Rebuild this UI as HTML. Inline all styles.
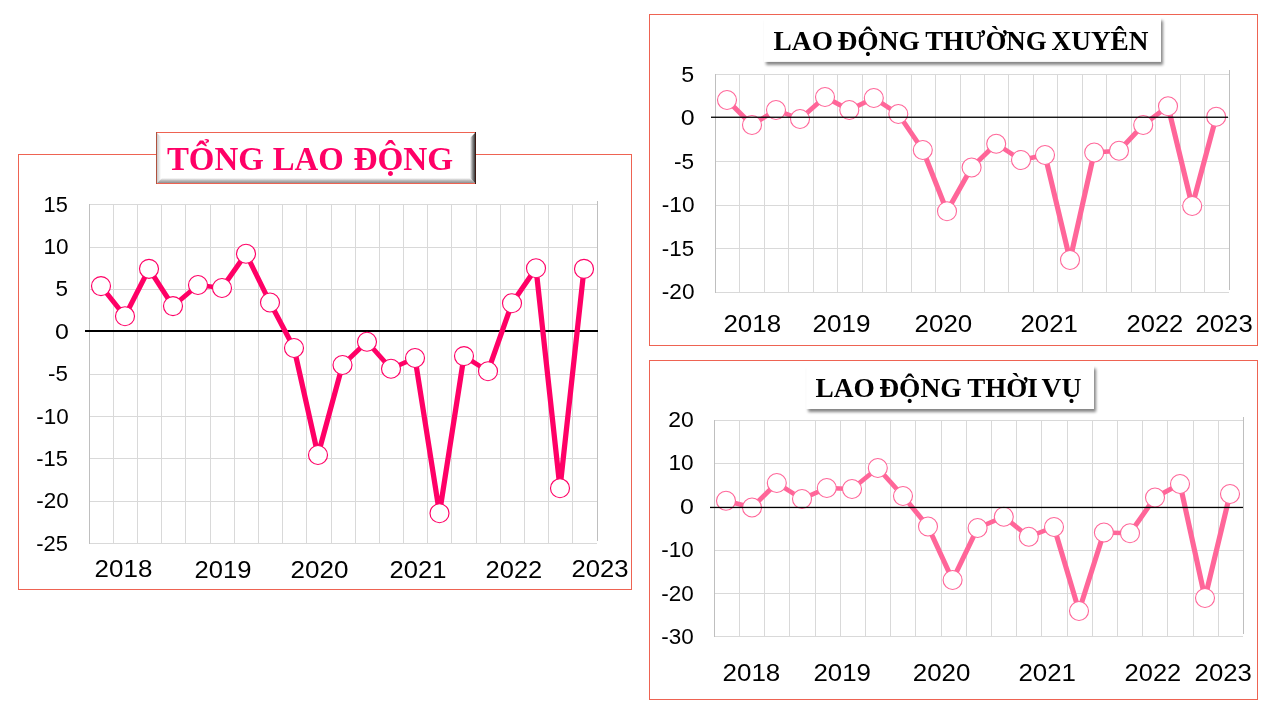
<!DOCTYPE html>
<html lang="vi">
<head>
<meta charset="utf-8">
<title>Lao động</title>
<style>
html,body{margin:0;padding:0;background:#fff;}
body{width:1280px;height:720px;overflow:hidden;position:relative;}
svg{position:absolute;left:0;top:0;display:block;}
</style>
</head>
<body>
<svg width="1280" height="720" viewBox="0 0 1280 720">
<defs>
<filter id="sh" x="-5%" y="-30%" width="112%" height="180%" color-interpolation-filters="sRGB">
  <feGaussianBlur in="SourceAlpha" stdDeviation="1.7"/>
  <feOffset dx="2.4" dy="3"/>
  <feComponentTransfer><feFuncA type="linear" slope="0.48"/></feComponentTransfer>
  <feMerge><feMergeNode/><feMergeNode in="SourceGraphic"/></feMerge>
</filter>
<linearGradient id="bvB" x1="0" y1="0" x2="0" y2="1"><stop offset="0" stop-color="#fff"/><stop offset="0.5" stop-color="#bdbdbd"/><stop offset="1" stop-color="#8f8f8f"/></linearGradient>
<linearGradient id="bvR" x1="0" y1="0" x2="1" y2="0"><stop offset="0" stop-color="#fff"/><stop offset="0.45" stop-color="#9a9a9a"/><stop offset="1" stop-color="#3a3a3a"/></linearGradient>
<linearGradient id="bvL" x1="0" y1="0" x2="1" y2="0"><stop offset="0" stop-color="#c9c9c9"/><stop offset="1" stop-color="#fff"/></linearGradient>
</defs>
<rect x="18.5" y="154.5" width="613" height="435" fill="#fff" stroke="#EE6352" stroke-width="1"/>
<rect x="649.5" y="14.5" width="608" height="331" fill="#fff" stroke="#EE6352" stroke-width="1"/>
<rect x="649.5" y="360.5" width="608" height="339" fill="#fff" stroke="#EE6352" stroke-width="1"/>
<rect x="89" y="204" width="508" height="1" fill="#D9D9D9"/>
<rect x="89" y="247" width="508" height="1" fill="#D9D9D9"/>
<rect x="89" y="289" width="508" height="1" fill="#D9D9D9"/>
<rect x="89" y="331" width="508" height="1" fill="#D9D9D9"/>
<rect x="89" y="374" width="508" height="1" fill="#D9D9D9"/>
<rect x="89" y="416" width="508" height="1" fill="#D9D9D9"/>
<rect x="89" y="458" width="508" height="1" fill="#D9D9D9"/>
<rect x="89" y="501" width="508" height="1" fill="#D9D9D9"/>
<rect x="89" y="543" width="508" height="1" fill="#D9D9D9"/>
<rect x="89" y="204" width="1" height="340" fill="#BFBFBF"/>
<rect x="113" y="204" width="1" height="340" fill="#D9D9D9"/>
<rect x="137" y="204" width="1" height="340" fill="#D9D9D9"/>
<rect x="161" y="204" width="1" height="340" fill="#D9D9D9"/>
<rect x="185" y="204" width="1" height="340" fill="#D9D9D9"/>
<rect x="210" y="204" width="1" height="340" fill="#D9D9D9"/>
<rect x="234" y="204" width="1" height="340" fill="#D9D9D9"/>
<rect x="258" y="204" width="1" height="340" fill="#D9D9D9"/>
<rect x="282" y="204" width="1" height="340" fill="#D9D9D9"/>
<rect x="306" y="204" width="1" height="340" fill="#D9D9D9"/>
<rect x="331" y="204" width="1" height="340" fill="#D9D9D9"/>
<rect x="355" y="204" width="1" height="340" fill="#D9D9D9"/>
<rect x="379" y="204" width="1" height="340" fill="#D9D9D9"/>
<rect x="403" y="204" width="1" height="340" fill="#D9D9D9"/>
<rect x="427" y="204" width="1" height="340" fill="#D9D9D9"/>
<rect x="451" y="204" width="1" height="340" fill="#D9D9D9"/>
<rect x="476" y="204" width="1" height="340" fill="#D9D9D9"/>
<rect x="500" y="204" width="1" height="340" fill="#D9D9D9"/>
<rect x="524" y="204" width="1" height="340" fill="#D9D9D9"/>
<rect x="548" y="204" width="1" height="340" fill="#D9D9D9"/>
<rect x="572" y="204" width="1" height="340" fill="#D9D9D9"/>
<rect x="597" y="201" width="1" height="340" fill="#BFBFBF"/>
<rect x="85" y="330" width="513" height="2" fill="#000"/>
<polyline transform="scale(1.17 1)" points="86.32,286.10 106.84,316.20 127.35,268.80 147.86,306.10 169.23,285.00 189.74,288.00 210.26,253.75 230.77,302.50 251.28,348.00 271.79,455.00 292.74,365.00 313.68,341.75 334.19,368.75 354.70,358.00 375.64,513.25 396.58,356.10 417.09,371.25 437.61,303.25 458.12,268.25 478.63,488.20 499.15,268.90" fill="none" stroke="#FF0066" stroke-width="4.5" stroke-linejoin="round" stroke-linecap="round"/>
<g fill="#fff" stroke="#FF0066" stroke-width="1.15">
<circle cx="101.00" cy="286.10" r="9.5"/>
<circle cx="125.00" cy="316.20" r="9.5"/>
<circle cx="149.00" cy="268.80" r="9.5"/>
<circle cx="173.00" cy="306.10" r="9.5"/>
<circle cx="198.00" cy="285.00" r="9.5"/>
<circle cx="222.00" cy="288.00" r="9.5"/>
<circle cx="246.00" cy="253.75" r="9.5"/>
<circle cx="270.00" cy="302.50" r="9.5"/>
<circle cx="294.00" cy="348.00" r="9.5"/>
<circle cx="318.00" cy="455.00" r="9.5"/>
<circle cx="342.50" cy="365.00" r="9.5"/>
<circle cx="367.00" cy="341.75" r="9.5"/>
<circle cx="391.00" cy="368.75" r="9.5"/>
<circle cx="415.00" cy="358.00" r="9.5"/>
<circle cx="439.50" cy="513.25" r="9.5"/>
<circle cx="464.00" cy="356.10" r="9.5"/>
<circle cx="488.00" cy="371.25" r="9.5"/>
<circle cx="512.00" cy="303.25" r="9.5"/>
<circle cx="536.00" cy="268.25" r="9.5"/>
<circle cx="560.00" cy="488.20" r="9.5"/>
<circle cx="584.00" cy="268.90" r="9.5"/>
</g>
<text x="43.63" y="211.7" font-family='"Liberation Sans", sans-serif' font-size="21.5" fill="#000" textLength="24.24" lengthAdjust="spacingAndGlyphs">15</text>
<text x="43.57" y="254.08" font-family='"Liberation Sans", sans-serif' font-size="21.5" fill="#000" textLength="25.11" lengthAdjust="spacingAndGlyphs">10</text>
<text x="55.4" y="296.46" font-family='"Liberation Sans", sans-serif' font-size="21.5" fill="#000" textLength="12.51" lengthAdjust="spacingAndGlyphs">5</text>
<text x="54.9" y="338.84" font-family='"Liberation Sans", sans-serif' font-size="21.5" fill="#000" textLength="13.89" lengthAdjust="spacingAndGlyphs">0</text>
<text x="48.08" y="381.22" font-family='"Liberation Sans", sans-serif' font-size="21.5" fill="#000" textLength="19.81" lengthAdjust="spacingAndGlyphs">-5</text>
<text x="36.23" y="423.6" font-family='"Liberation Sans", sans-serif' font-size="21.5" fill="#000" textLength="32.44" lengthAdjust="spacingAndGlyphs">-10</text>
<text x="36.25" y="465.98" font-family='"Liberation Sans", sans-serif' font-size="21.5" fill="#000" textLength="31.62" lengthAdjust="spacingAndGlyphs">-15</text>
<text x="36.23" y="508.36" font-family='"Liberation Sans", sans-serif' font-size="21.5" fill="#000" textLength="32.44" lengthAdjust="spacingAndGlyphs">-20</text>
<text x="36.25" y="550.74" font-family='"Liberation Sans", sans-serif' font-size="21.5" fill="#000" textLength="31.62" lengthAdjust="spacingAndGlyphs">-25</text>
<text x="94.6" y="576.8" font-family='"Liberation Sans", sans-serif' font-size="24.6" fill="#000" textLength="57.76" lengthAdjust="spacingAndGlyphs">2018</text>
<text x="194.62" y="577.6" font-family='"Liberation Sans", sans-serif' font-size="24.6" fill="#000" textLength="56.91" lengthAdjust="spacingAndGlyphs">2019</text>
<text x="290.5" y="577.6" font-family='"Liberation Sans", sans-serif' font-size="24.6" fill="#000" textLength="57.94" lengthAdjust="spacingAndGlyphs">2020</text>
<text x="389.62" y="577.6" font-family='"Liberation Sans", sans-serif' font-size="24.6" fill="#000" textLength="56.91" lengthAdjust="spacingAndGlyphs">2021</text>
<text x="485.52" y="577.6" font-family='"Liberation Sans", sans-serif' font-size="24.6" fill="#000" textLength="56.73" lengthAdjust="spacingAndGlyphs">2022</text>
<text x="571.52" y="576.8" font-family='"Liberation Sans", sans-serif' font-size="24.6" fill="#000" textLength="57.08" lengthAdjust="spacingAndGlyphs">2023</text>
<g>
<rect x="156" y="132" width="320" height="52" fill="#fff"/>
<polygon points="157,133 161,137 161,179 157,183" fill="url(#bvL)"/>
<polygon points="157,183 162,178 470,178 475,183" fill="url(#bvB)"/>
<polygon points="475,133 470,138 470,178 475,183" fill="url(#bvR)"/>
<rect x="156" y="132" width="320" height="1" fill="#EE6352"/>
<rect x="156" y="183" width="320" height="1" fill="#EE6352"/>
<rect x="156" y="132" width="1" height="52" fill="#B0523F"/>
<rect x="475" y="132" width="1" height="52" fill="#3A1A14"/>
<text y="170" font-family='"Liberation Serif", serif' font-weight="bold" font-size="33.3" fill="#FF0066"><tspan x="166.9" textLength="96.93" lengthAdjust="spacingAndGlyphs">TỔNG</tspan> <tspan x="272.75" textLength="70.94" lengthAdjust="spacingAndGlyphs">LAO</tspan> <tspan x="353.42" textLength="99.76" lengthAdjust="spacingAndGlyphs">ĐỘNG</tspan></text>
</g>
<rect x="715" y="74" width="514" height="1" fill="#D9D9D9"/>
<rect x="715" y="117" width="514" height="1" fill="#D9D9D9"/>
<rect x="715" y="161" width="514" height="1" fill="#D9D9D9"/>
<rect x="715" y="205" width="514" height="1" fill="#D9D9D9"/>
<rect x="715" y="248" width="514" height="1" fill="#D9D9D9"/>
<rect x="715" y="292" width="514" height="1" fill="#D9D9D9"/>
<rect x="715" y="74" width="1" height="219" fill="#BFBFBF"/>
<rect x="739" y="74" width="1" height="219" fill="#D9D9D9"/>
<rect x="764" y="74" width="1" height="219" fill="#D9D9D9"/>
<rect x="788" y="74" width="1" height="219" fill="#D9D9D9"/>
<rect x="813" y="74" width="1" height="219" fill="#D9D9D9"/>
<rect x="837" y="74" width="1" height="219" fill="#D9D9D9"/>
<rect x="862" y="74" width="1" height="219" fill="#D9D9D9"/>
<rect x="886" y="74" width="1" height="219" fill="#D9D9D9"/>
<rect x="911" y="74" width="1" height="219" fill="#D9D9D9"/>
<rect x="935" y="74" width="1" height="219" fill="#D9D9D9"/>
<rect x="960" y="74" width="1" height="219" fill="#D9D9D9"/>
<rect x="984" y="74" width="1" height="219" fill="#D9D9D9"/>
<rect x="1008" y="74" width="1" height="219" fill="#D9D9D9"/>
<rect x="1033" y="74" width="1" height="219" fill="#D9D9D9"/>
<rect x="1057" y="74" width="1" height="219" fill="#D9D9D9"/>
<rect x="1082" y="74" width="1" height="219" fill="#D9D9D9"/>
<rect x="1106" y="74" width="1" height="219" fill="#D9D9D9"/>
<rect x="1131" y="74" width="1" height="219" fill="#D9D9D9"/>
<rect x="1155" y="74" width="1" height="219" fill="#D9D9D9"/>
<rect x="1180" y="74" width="1" height="219" fill="#D9D9D9"/>
<rect x="1204" y="74" width="1" height="219" fill="#D9D9D9"/>
<rect x="1229" y="70" width="1" height="220" fill="#BFBFBF"/>
<polyline transform="scale(1.17 1)" points="621.37,100.00 642.74,125.00 663.25,110.00 683.76,119.00 705.13,97.00 725.90,110.00 746.84,98.00 767.78,114.00 788.72,150.00 809.40,211.25 830.43,167.50 851.45,143.75 872.65,160.00 893.16,155.00 914.53,260.00 935.21,152.50 956.41,150.75 977.09,125.00 998.29,106.25 1018.97,206.00 1039.49,116.75" fill="none" stroke="#FF6699" stroke-width="4.45" stroke-linejoin="round" stroke-linecap="round"/>
<g fill="#fff" stroke="#FF6699" stroke-width="1.1">
<circle cx="727.00" cy="100.00" r="9.5"/>
<circle cx="752.00" cy="125.00" r="9.5"/>
<circle cx="776.00" cy="110.00" r="9.5"/>
<circle cx="800.00" cy="119.00" r="9.5"/>
<circle cx="825.00" cy="97.00" r="9.5"/>
<circle cx="849.30" cy="110.00" r="9.5"/>
<circle cx="873.80" cy="98.00" r="9.5"/>
<circle cx="898.30" cy="114.00" r="9.5"/>
<circle cx="922.80" cy="150.00" r="9.5"/>
<circle cx="947.00" cy="211.25" r="9.5"/>
<circle cx="971.60" cy="167.50" r="9.5"/>
<circle cx="996.20" cy="143.75" r="9.5"/>
<circle cx="1021.00" cy="160.00" r="9.5"/>
<circle cx="1045.00" cy="155.00" r="9.5"/>
<circle cx="1070.00" cy="260.00" r="9.5"/>
<circle cx="1094.20" cy="152.50" r="9.5"/>
<circle cx="1119.00" cy="150.75" r="9.5"/>
<circle cx="1143.20" cy="125.00" r="9.5"/>
<circle cx="1168.00" cy="106.25" r="9.5"/>
<circle cx="1192.20" cy="206.00" r="9.5"/>
<circle cx="1216.20" cy="116.75" r="9.5"/>
</g>
<rect x="711" y="116.6" width="517" height="1.3" fill="#000"/>
<text x="681.27" y="81.85" font-family='"Liberation Sans", sans-serif' font-size="21.5" fill="#000" textLength="12.93" lengthAdjust="spacingAndGlyphs">5</text>
<text x="680.8" y="125.3" font-family='"Liberation Sans", sans-serif' font-size="21.5" fill="#000" textLength="13.89" lengthAdjust="spacingAndGlyphs">0</text>
<text x="674.07" y="168.75" font-family='"Liberation Sans", sans-serif' font-size="21.5" fill="#000" textLength="20.09" lengthAdjust="spacingAndGlyphs">-5</text>
<text x="661.82" y="212.2" font-family='"Liberation Sans", sans-serif' font-size="21.5" fill="#000" textLength="32.76" lengthAdjust="spacingAndGlyphs">-10</text>
<text x="661.83" y="255.65" font-family='"Liberation Sans", sans-serif' font-size="21.5" fill="#000" textLength="32.31" lengthAdjust="spacingAndGlyphs">-15</text>
<text x="661.82" y="299.1" font-family='"Liberation Sans", sans-serif' font-size="21.5" fill="#000" textLength="32.76" lengthAdjust="spacingAndGlyphs">-20</text>
<text x="723.4" y="331.8" font-family='"Liberation Sans", sans-serif' font-size="24.6" fill="#000" textLength="57.7" lengthAdjust="spacingAndGlyphs">2018</text>
<text x="812.5" y="331.8" font-family='"Liberation Sans", sans-serif' font-size="24.6" fill="#000" textLength="58.06" lengthAdjust="spacingAndGlyphs">2019</text>
<text x="914.61" y="331.8" font-family='"Liberation Sans", sans-serif' font-size="24.6" fill="#000" textLength="57.58" lengthAdjust="spacingAndGlyphs">2020</text>
<text x="1020.51" y="331.8" font-family='"Liberation Sans", sans-serif' font-size="24.6" fill="#000" textLength="57.32" lengthAdjust="spacingAndGlyphs">2021</text>
<text x="1126.52" y="331.8" font-family='"Liberation Sans", sans-serif' font-size="24.6" fill="#000" textLength="56.73" lengthAdjust="spacingAndGlyphs">2022</text>
<text x="1195.51" y="331.8" font-family='"Liberation Sans", sans-serif' font-size="24.6" fill="#000" textLength="57.23" lengthAdjust="spacingAndGlyphs">2023</text>
<g>
<rect x="764" y="17.6" width="397" height="44.3" fill="#fff" filter="url(#sh)"/>
<text y="49.8" font-family='"Liberation Serif", serif' font-weight="bold" font-size="26.7" fill="#000"><tspan x="773.59" textLength="59.39" lengthAdjust="spacingAndGlyphs">LAO</tspan> <tspan x="837.51" textLength="82.32" lengthAdjust="spacingAndGlyphs">ĐỘNG</tspan> <tspan x="925.2" textLength="121.52" lengthAdjust="spacingAndGlyphs">THƯỜNG</tspan> <tspan x="1051.61" textLength="96.83" lengthAdjust="spacingAndGlyphs">XUYÊN</tspan></text>
</g>
<rect x="714" y="420" width="529" height="1" fill="#D9D9D9"/>
<rect x="714" y="463" width="529" height="1" fill="#D9D9D9"/>
<rect x="714" y="507" width="529" height="1" fill="#D9D9D9"/>
<rect x="714" y="550" width="529" height="1" fill="#D9D9D9"/>
<rect x="714" y="593" width="529" height="1" fill="#D9D9D9"/>
<rect x="714" y="636" width="529" height="1" fill="#D9D9D9"/>
<rect x="714" y="420" width="1" height="217" fill="#BFBFBF"/>
<rect x="739" y="420" width="1" height="217" fill="#D9D9D9"/>
<rect x="764" y="420" width="1" height="217" fill="#D9D9D9"/>
<rect x="789" y="420" width="1" height="217" fill="#D9D9D9"/>
<rect x="815" y="420" width="1" height="217" fill="#D9D9D9"/>
<rect x="840" y="420" width="1" height="217" fill="#D9D9D9"/>
<rect x="865" y="420" width="1" height="217" fill="#D9D9D9"/>
<rect x="890" y="420" width="1" height="217" fill="#D9D9D9"/>
<rect x="915" y="420" width="1" height="217" fill="#D9D9D9"/>
<rect x="941" y="420" width="1" height="217" fill="#D9D9D9"/>
<rect x="966" y="420" width="1" height="217" fill="#D9D9D9"/>
<rect x="991" y="420" width="1" height="217" fill="#D9D9D9"/>
<rect x="1016" y="420" width="1" height="217" fill="#D9D9D9"/>
<rect x="1041" y="420" width="1" height="217" fill="#D9D9D9"/>
<rect x="1067" y="420" width="1" height="217" fill="#D9D9D9"/>
<rect x="1092" y="420" width="1" height="217" fill="#D9D9D9"/>
<rect x="1117" y="420" width="1" height="217" fill="#D9D9D9"/>
<rect x="1142" y="420" width="1" height="217" fill="#D9D9D9"/>
<rect x="1167" y="420" width="1" height="217" fill="#D9D9D9"/>
<rect x="1193" y="420" width="1" height="217" fill="#D9D9D9"/>
<rect x="1218" y="420" width="1" height="217" fill="#D9D9D9"/>
<rect x="1243" y="417" width="1" height="217" fill="#BFBFBF"/>
<polyline transform="scale(1.17 1)" points="620.51,500.75 642.74,507.50 663.93,483.00 685.47,499.00 706.67,488.00 728.21,489.00 750.26,468.00 771.79,496.00 793.16,526.50 814.19,580.00 835.56,528.00 857.95,516.75 879.32,536.75 900.85,527.00 922.22,611.00 943.50,532.50 965.81,533.25 987.18,497.50 1008.55,484.00 1029.91,598.00 1051.28,494.00" fill="none" stroke="#FF6699" stroke-width="4.45" stroke-linejoin="round" stroke-linecap="round"/>
<g fill="#fff" stroke="#FF6699" stroke-width="1.1">
<circle cx="726.00" cy="500.75" r="9.5"/>
<circle cx="752.00" cy="507.50" r="9.5"/>
<circle cx="776.80" cy="483.00" r="9.5"/>
<circle cx="802.00" cy="499.00" r="9.5"/>
<circle cx="826.80" cy="488.00" r="9.5"/>
<circle cx="852.00" cy="489.00" r="9.5"/>
<circle cx="877.80" cy="468.00" r="9.5"/>
<circle cx="903.00" cy="496.00" r="9.5"/>
<circle cx="928.00" cy="526.50" r="9.5"/>
<circle cx="952.60" cy="580.00" r="9.5"/>
<circle cx="977.60" cy="528.00" r="9.5"/>
<circle cx="1003.80" cy="516.75" r="9.5"/>
<circle cx="1028.80" cy="536.75" r="9.5"/>
<circle cx="1054.00" cy="527.00" r="9.5"/>
<circle cx="1079.00" cy="611.00" r="9.5"/>
<circle cx="1103.90" cy="532.50" r="9.5"/>
<circle cx="1130.00" cy="533.25" r="9.5"/>
<circle cx="1155.00" cy="497.50" r="9.5"/>
<circle cx="1180.00" cy="484.00" r="9.5"/>
<circle cx="1205.00" cy="598.00" r="9.5"/>
<circle cx="1230.00" cy="494.00" r="9.5"/>
</g>
<rect x="710" y="506.8" width="533" height="1.3" fill="#000"/>
<text x="668.15" y="426.85" font-family='"Liberation Sans", sans-serif' font-size="21.5" fill="#000" textLength="25.54" lengthAdjust="spacingAndGlyphs">20</text>
<text x="668.57" y="470.3" font-family='"Liberation Sans", sans-serif' font-size="21.5" fill="#000" textLength="25.11" lengthAdjust="spacingAndGlyphs">10</text>
<text x="679.9" y="513.75" font-family='"Liberation Sans", sans-serif' font-size="21.5" fill="#000" textLength="13.89" lengthAdjust="spacingAndGlyphs">0</text>
<text x="661.23" y="557.2" font-family='"Liberation Sans", sans-serif' font-size="21.5" fill="#000" textLength="32.44" lengthAdjust="spacingAndGlyphs">-10</text>
<text x="661.23" y="600.65" font-family='"Liberation Sans", sans-serif' font-size="21.5" fill="#000" textLength="32.44" lengthAdjust="spacingAndGlyphs">-20</text>
<text x="661.23" y="644.1" font-family='"Liberation Sans", sans-serif' font-size="21.5" fill="#000" textLength="32.44" lengthAdjust="spacingAndGlyphs">-30</text>
<text x="722.5" y="680.6" font-family='"Liberation Sans", sans-serif' font-size="24.6" fill="#000" textLength="57.76" lengthAdjust="spacingAndGlyphs">2018</text>
<text x="813.41" y="680.6" font-family='"Liberation Sans", sans-serif' font-size="24.6" fill="#000" textLength="57.53" lengthAdjust="spacingAndGlyphs">2019</text>
<text x="912.75" y="680.6" font-family='"Liberation Sans", sans-serif' font-size="24.6" fill="#000" textLength="57.68" lengthAdjust="spacingAndGlyphs">2020</text>
<text x="1018.41" y="680.6" font-family='"Liberation Sans", sans-serif' font-size="24.6" fill="#000" textLength="57.53" lengthAdjust="spacingAndGlyphs">2021</text>
<text x="1124.63" y="680.6" font-family='"Liberation Sans", sans-serif' font-size="24.6" fill="#000" textLength="56.63" lengthAdjust="spacingAndGlyphs">2022</text>
<text x="1194.61" y="680.6" font-family='"Liberation Sans", sans-serif' font-size="24.6" fill="#000" textLength="57.23" lengthAdjust="spacingAndGlyphs">2023</text>
<g>
<rect x="806.2" y="365.6" width="287.8" height="43.4" fill="#fff" filter="url(#sh)"/>
<text y="396.9" font-family='"Liberation Serif", serif' font-weight="bold" font-size="26.7" fill="#000"><tspan x="815.44" textLength="59.39" lengthAdjust="spacingAndGlyphs">LAO</tspan> <tspan x="879.26" textLength="82.42" lengthAdjust="spacingAndGlyphs">ĐỘNG</tspan> <tspan x="967.3" textLength="70.5" lengthAdjust="spacingAndGlyphs">THỜI</tspan> <tspan x="1041.62" textLength="40.0" lengthAdjust="spacingAndGlyphs">VỤ</tspan></text>
</g>
</svg>
</body>
</html>
